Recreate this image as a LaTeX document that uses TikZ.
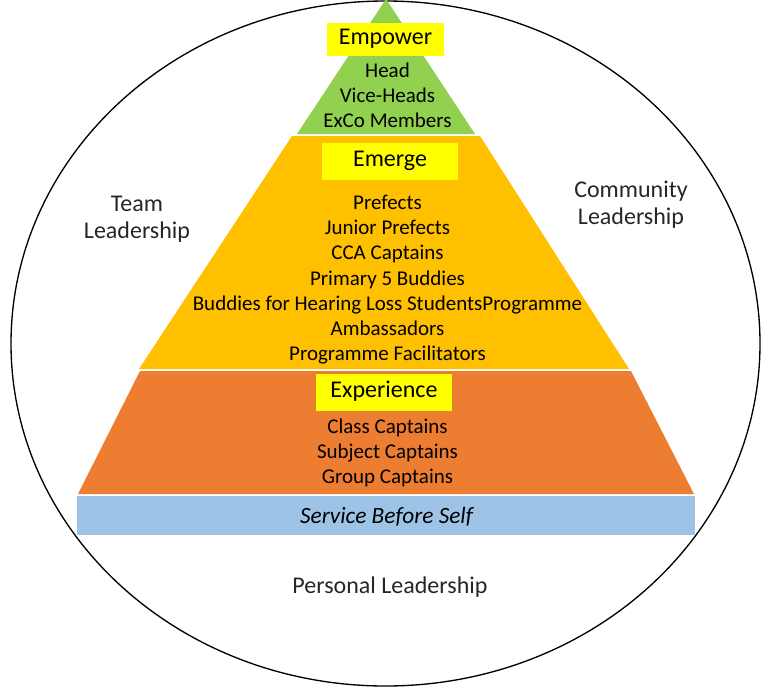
\documentclass[tikz,border=0pt]{standalone}
\usepackage{fontspec}
\setmainfont{Carlito}
\usetikzlibrary{positioning}

\definecolor{lvlGreen}{HTML}{92D050}
\definecolor{lvlGold}{HTML}{FFC000}
\definecolor{lvlOrange}{HTML}{ED7D31}
\definecolor{lvlBlue}{HTML}{9DC3E6}
\definecolor{hdrYellow}{HTML}{FFFF00}

\begin{document}
\begin{tikzpicture}[
  x=0.75pt, y=-0.75pt,
  hdr/.style   = {fill=hdrYellow, inner sep=0pt, font=\fontsize{18}{21}\selectfont,
                  text height=0.92em, text depth=0.17em},
  itm/.style   = {anchor=base, inner sep=0pt, font=\fontsize{15.75}{19}\selectfont},
  outer/.style = {align=center, inner sep=0pt, black!85,
                  font=\fontsize{18}{20.5}\selectfont},
]

\def\px{0.75pt}
\def\xm{387.5}

\useasboundingbox (0,0) rectangle (762,689);

% outer ring
\draw[line width=1pt] (385.5,343.5) ellipse [x radius=374.5, y radius=342.5];

% pyramid layers
\fill[lvlBlue]   (77,496) rectangle (695,535);
\fill[lvlOrange] (140,371) -- (631,371) -- (694,494) -- (78,494) -- cycle;
\fill[lvlGold]   (292,136) -- (480,136) -- (629,369) -- (139,369) -- cycle;
\fill[lvlGreen]  (386,-1) -- (475,134) -- (297,134) -- cycle;

% headings
\node[hdr, minimum width=117*\px, minimum height=33*\px] (hEmpower)
  at (385.5,39.5) {Empower};
\node[hdr, minimum width=136*\px, minimum height=37*\px] (hEmerge)
  at (390,161.5) {Emerge};
\node[hdr, minimum width=136*\px, minimum height=37*\px] (hExperience)
  at (384,392.5) {Experience};

% members
\foreach \t [count=\i] in {Head, Vice-Heads, ExCo Members}
  \node[itm] (emp\i) at (\xm, {77+25*(\i-1)}) {\t};

\foreach \t [count=\i] in {Prefects, Junior Prefects, CCA Captains,
    Primary 5 Buddies, Buddies for Hearing Loss StudentsProgramme,
    Ambassadors, Programme Facilitators}
  \node[itm] (emg\i) at (\xm, {209.5+25.2*(\i-1)}) {\t};

\foreach \t [count=\i] in {Class Captains, Subject Captains, Group Captains}
  \node[itm] (exp\i) at (\xm, {433+25*(\i-1)}) {\t};

\node[itm, font=\fontsize{17.5}{21}\selectfont\itshape] (base)
  at (386.5,523) {Service Before Self};

% leadership spheres
\node[outer] (team) at (137,219) {Team\\Leadership};
\node[outer] (community) at (631,205) {Community\\Leadership};
\node[outer, anchor=base] (personal) at (390,593) {Personal Leadership};

\end{tikzpicture}
\end{document}
